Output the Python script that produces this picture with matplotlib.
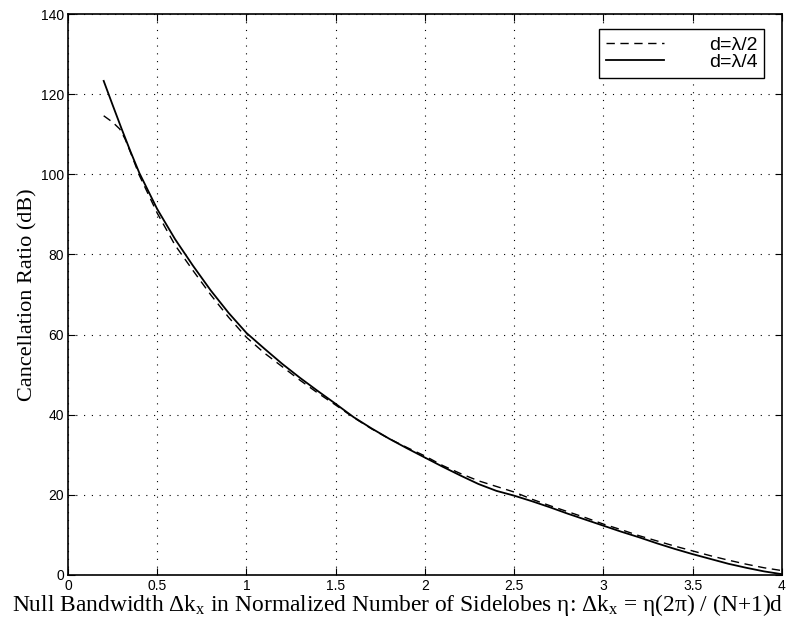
import numpy as np
import matplotlib
matplotlib.use("Agg")
import matplotlib.pyplot as plt

# cancellation ratio vs. null bandwidth (eta, in sidelobes)
eta_q = [0.20, 0.25, 0.30, 0.35, 0.40, 0.50, 0.60, 0.70, 0.80, 0.90,
         1.00, 1.10, 1.20, 1.30, 1.40, 1.50, 1.60, 1.70, 1.80, 1.90,
         2.00, 2.10, 2.20, 2.30, 2.40, 2.50, 2.60, 2.70, 2.80, 2.90,
         3.00, 3.10, 3.20, 3.30, 3.40, 3.50, 3.60, 3.70, 3.80, 3.90, 4.00]
cr_q = [123.3, 117.3, 111.4, 105.7, 100.3, 91.3, 83.8, 77.2, 71.0, 65.4,
        60.4, 56.5, 52.7, 49.2, 45.9, 42.7, 39.4, 36.6, 34.0, 31.6,
        29.3, 27.0, 24.8, 22.7, 21.0, 19.8, 18.4, 16.9, 15.3, 13.8,
        12.3, 10.8, 9.4, 7.9, 6.5, 5.2, 4.0, 2.8, 1.8, 0.9, 0.2]

eta_h = [0.20, 0.25, 0.29, 0.32, 0.35, 0.40, 0.50, 0.60, 0.70, 0.80,
         0.90, 1.00, 1.10, 1.20, 1.30, 1.40, 1.50, 1.60, 1.70, 1.80,
         1.90, 2.00, 2.10, 2.20, 2.30, 2.40, 2.50, 2.60, 2.70, 2.80,
         2.90, 3.00, 3.10, 3.20, 3.30, 3.40, 3.50, 3.60, 3.70, 3.80,
         3.90, 4.00]
cr_h = [114.6, 113.0, 111.3, 108.8, 105.5, 99.7, 90.3, 82.3, 76.0, 69.9,
        64.3, 59.3, 55.4, 52.0, 48.6, 45.4, 42.4, 39.3, 36.5, 34.0,
        31.8, 29.7, 27.3, 25.3, 23.5, 22.1, 20.7, 18.9, 17.3, 15.8,
        14.3, 12.7, 11.3, 9.8, 8.5, 7.2, 6.0, 4.8, 3.7, 2.7,
        1.8, 1.1]

xticks = [0, 0.5, 1, 1.5, 2, 2.5, 3, 3.5, 4]
xtick_labels = ["0", "0.5", "1", "1.5", "2", "2.5", "3", "3.5", "4"]
yticks = [0, 20, 40, 60, 80, 100, 120, 140]

plt.rcParams["font.family"] = "Liberation Sans"
plt.rcParams["mathtext.fontset"] = "custom"
plt.rcParams["mathtext.rm"] = "Liberation Serif"
plt.rcParams["mathtext.it"] = "Liberation Serif"

fig = plt.figure(figsize=(7.98, 6.25), dpi=100)
ax = fig.add_axes([0.0852, 0.08, 0.8947, 0.8976])

ax.plot(eta_h, cr_h, color="black", lw=1.0, dashes=(6, 4), label="d=λ/2")
ax.plot(eta_q, cr_q, color="black", lw=1.3, label="d=λ/4")

ax.set_xlim(0, 4)
ax.set_ylim(0, 140)
ax.set_xticks(xticks)
ax.set_xticklabels(xtick_labels)
ax.set_yticks(yticks)
ax.tick_params(direction="in", length=5, top=True, right=True,
               labelsize=10, pad=3)
ax.grid(True, color="black", linestyle=(0, (1, 6)), lw=0.8)
for sp in ax.spines.values():
    sp.set_linewidth(1.2)

ax.set_ylabel("Cancellation Ratio (dB)", family="Liberation Serif",
              fontsize=16, labelpad=2)
ax.set_xlabel(r"Null Bandwidth Δ$\mathrm{k_x}$ in Normalized Number of "
              r"Sidelobes η: Δ$\mathrm{k_x}$ = η(2π) / (N+1)d",
              family="Liberation Serif", fontsize=16.9)
ax.xaxis.set_label_coords(0.4615, -0.03)

leg = ax.legend(loc="upper right", bbox_to_anchor=(0.975, 0.973),
                borderaxespad=0, fontsize=14, handlelength=3.0,
                handletextpad=2.3, labelspacing=0.0, borderpad=0.35,
                fancybox=False, framealpha=1, edgecolor="black")
leg.get_frame().set_linewidth(1.0)

fig.savefig("out.png", dpi=100)
